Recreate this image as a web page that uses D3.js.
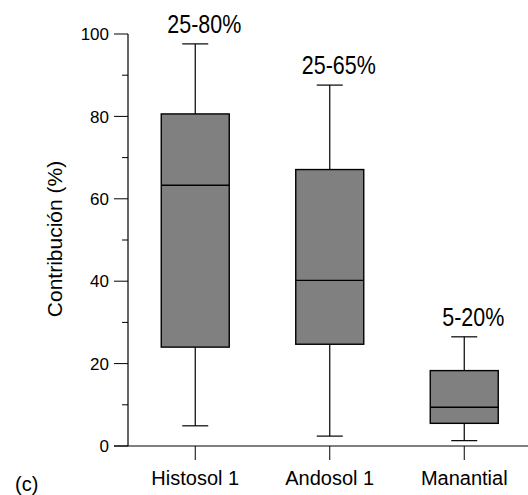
<!DOCTYPE html>
<html>
<head>
<meta charset="utf-8">
<script src="https://cdn.jsdelivr.net/npm/d3@7"></script>
<style>
  html, body { margin: 0; padding: 0; background: #fff; }
  svg { display: block; font-family: "Liberation Sans", Arial, sans-serif; }
</style>
</head>
<body>
<svg id="chart" width="528" height="495"></svg>
<script>
// Source contribution per end-member (box plot summary, %)
const categories = ["Histosol 1", "Andosol 1", "Manantial"];
const whiskerLow = [4.9, 2.4, 1.3];
const q1 = [24.0, 24.7, 5.5];
const median = [63.3, 40.2, 9.4];
const q3 = [80.6, 67.1, 18.3];
const whiskerHigh = [97.6, 87.6, 26.5];
const rangeLabels = ["25-80%", "25-65%", "5-20%"];
const majorTicks = [0, 20, 40, 60, 80, 100];
const minorTicks = [10, 30, 50, 70, 90];

const svg = d3.select("#chart");

const x = d3.scaleBand().domain(categories).range([128, 531.5]).padding(0);
const y = d3.scaleLinear().domain([0, 100]).range([446, 34]);

const boxW = 68, capW = 26;

// y axis: line, major ticks with labels, minor ticks
svg.append("line").attr("x1", 128).attr("x2", 128)
  .attr("y1", y(100)).attr("y2", y(0)).attr("stroke", "#000").attr("stroke-width", 1.2);
svg.selectAll(".ymaj").data(majorTicks).join("line")
  .attr("x1", 114).attr("x2", 128)
  .attr("y1", d => y(d)).attr("y2", d => y(d))
  .attr("stroke", "#000").attr("stroke-width", 1);
svg.selectAll(".ymin").data(minorTicks).join("line")
  .attr("x1", 122).attr("x2", 128)
  .attr("y1", d => y(d)).attr("y2", d => y(d))
  .attr("stroke", "#000").attr("stroke-width", 1);
svg.selectAll(".ylab").data(majorTicks).join("text")
  .attr("x", 109).attr("y", d => y(d))
  .attr("dy", "0.36em").attr("text-anchor", "end")
  .attr("font-size", 17).attr("fill", "#000")
  .text(d => d);

// x axis: baseline and category ticks
svg.append("line").attr("x1", 114).attr("x2", 528)
  .attr("y1", y(0)).attr("y2", y(0)).attr("stroke", "#000").attr("stroke-width", 1.2);
svg.selectAll(".xtick").data(categories).join("line")
  .attr("x1", d => x(d) + x.bandwidth() / 2).attr("x2", d => x(d) + x.bandwidth() / 2)
  .attr("y1", y(0)).attr("y2", y(0) + 14)
  .attr("stroke", "#000").attr("stroke-width", 1);
svg.selectAll(".xlab").data(categories).join("text")
  .attr("x", d => x(d) + x.bandwidth() / 2).attr("y", 485)
  .attr("text-anchor", "middle").attr("font-size", 20).attr("fill", "#000")
  .text(d => d);

// axis title and panel tag
svg.append("text")
  .attr("transform", "translate(62,239) rotate(-90)")
  .attr("text-anchor", "middle").attr("font-size", 21).attr("fill", "#000")
  .text("Contribución (%)");
svg.append("text").attr("x", 15).attr("y", 491)
  .attr("font-size", 20).attr("fill", "#000").text("(c)");

// boxes
const g = svg.selectAll(".box").data(categories).join("g")
  .attr("transform", d => `translate(${x(d) + x.bandwidth() / 2},0)`);

g.append("line").attr("x1", 0).attr("x2", 0)
  .attr("y1", (d, i) => y(whiskerHigh[i])).attr("y2", (d, i) => y(q3[i]))
  .attr("stroke", "#000").attr("stroke-width", 1.2);
g.append("line").attr("x1", 0).attr("x2", 0)
  .attr("y1", (d, i) => y(q1[i])).attr("y2", (d, i) => y(whiskerLow[i]))
  .attr("stroke", "#000").attr("stroke-width", 1.2);
g.append("line").attr("x1", -capW / 2).attr("x2", capW / 2)
  .attr("y1", (d, i) => y(whiskerHigh[i])).attr("y2", (d, i) => y(whiskerHigh[i]))
  .attr("stroke", "#000").attr("stroke-width", 1.2);
g.append("line").attr("x1", -capW / 2).attr("x2", capW / 2)
  .attr("y1", (d, i) => y(whiskerLow[i])).attr("y2", (d, i) => y(whiskerLow[i]))
  .attr("stroke", "#000").attr("stroke-width", 1.2);
g.append("rect").attr("x", -boxW / 2).attr("width", boxW)
  .attr("y", (d, i) => y(q3[i])).attr("height", (d, i) => y(q1[i]) - y(q3[i]))
  .attr("fill", "#808080").attr("stroke", "#000").attr("stroke-width", 1.4);
g.append("line").attr("x1", -boxW / 2).attr("x2", boxW / 2)
  .attr("y1", (d, i) => y(median[i])).attr("y2", (d, i) => y(median[i]))
  .attr("stroke", "#000").attr("stroke-width", 1.4);

// range annotations above each whisker (condensed type)
g.append("text")
  .attr("transform", (d, i) => `translate(9,${y(whiskerHigh[i]) - 11}) scale(0.81,1)`)
  .attr("text-anchor", "middle").attr("font-size", 26.5).attr("fill", "#000")
  .text((d, i) => rangeLabels[i]);
</script>
</body>
</html>
